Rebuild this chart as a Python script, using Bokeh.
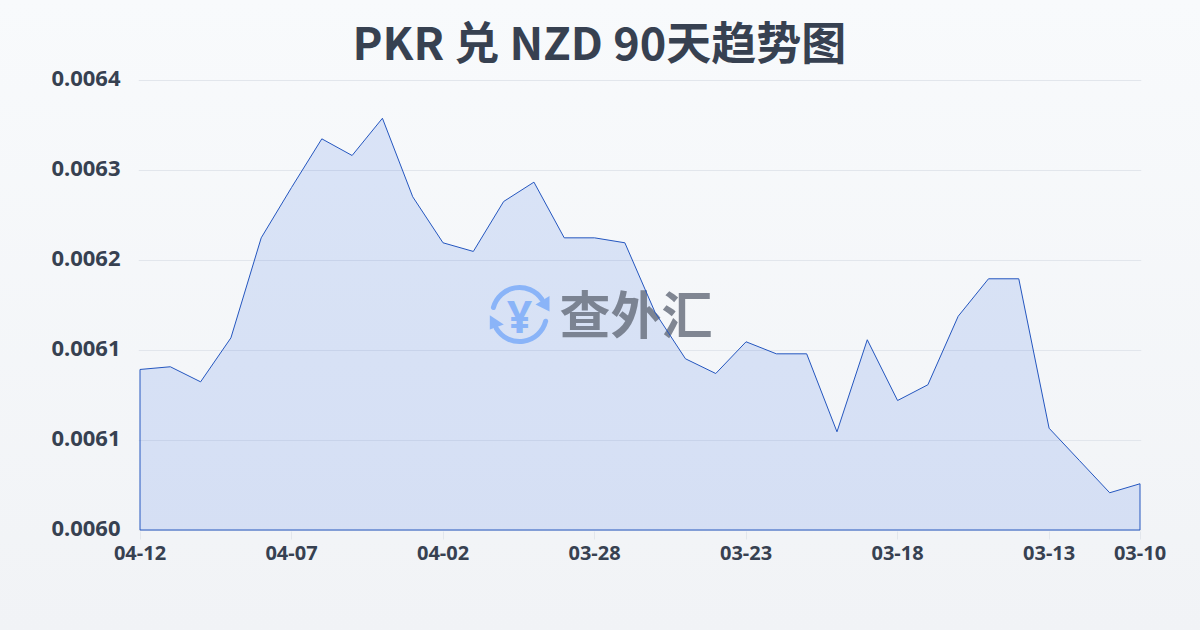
from bokeh.plotting import figure
from bokeh.embed import file_html
from bokeh.resources import INLINE
from bokeh.models import Range1d, FixedTicker, Title, LinearAxis
from bokeh.core.properties import value

title_text = "PKR 兑 NZD 90天趋势图"
brand_text = "查外汇"
dates = ["04-12","04-11","04-10","04-09","04-08","04-07","04-06","04-05","04-04","04-03",
         "04-02","04-01","03-31","03-30","03-29","03-28","03-27","03-26","03-25","03-24",
         "03-23","03-22","03-21","03-20","03-19","03-18","03-17","03-16","03-15","03-14",
         "03-13","03-12","03-11","03-10"]
rates = [0.0061427,0.0061451,0.0061317,0.0061708,0.0062597,0.0063044,0.0063477,0.0063329,
         0.0063660,0.0062962,0.0062553,0.0062476,0.0062920,0.0063092,0.0062597,0.0062597,
         0.0062553,0.0061933,0.0061522,0.0061391,0.0061673,0.0061566,0.0061566,0.0060873,
         0.0061691,0.0061151,0.0061291,0.0061900,0.0062233,0.0062233,0.0060905,0.0060618,
         0.0060331,0.0060411]
y_ticks = [0.0060,0.00608,0.00616,0.00624,0.00632,0.0064]
y_labels = ["0.0060","0.0061","0.0061","0.0062","0.0063","0.0064"]
x_tick_idx = [0,5,10,15,20,25,30,33]

INK = "#374151"
BLUE = "#2a66e0"
LINE = "#2456bf"
y_base = y_ticks[0]

# frame is a little larger than the data box so edge lines are not clipped
kx = (len(dates)-1)/1000
ky = (y_ticks[-1]-y_ticks[0])/450
p = figure(width=1200, height=630, output_backend="svg", toolbar_location=None,
           x_range=Range1d(-1.5*kx, len(dates)-1+1.5*kx),
           y_range=Range1d(y_ticks[0]-1.5*ky, y_ticks[-1]+3.5*ky),
           y_axis_location=None,
           min_border_left=138, min_border_right=59, min_border_top=76, min_border_bottom=99,
           styles={"background": "linear-gradient(180deg,#f8fafc 0%,#f1f3f6 100%)"})
p.background_fill_alpha = 0
p.border_fill_alpha = 0
p.outline_line_color = None

p.title = Title(text=title_text, align="left", offset=214, standoff=8,
                text_font="Noto Sans CJK SC", text_font_style="bold", text_font_size="45px",
                text_color=INK)

# pixel-based range for the watermark, mapped on the plot frame
p.extra_x_ranges["px"] = Range1d(139, 1142)
p.extra_y_ranges["px"] = Range1d(532, 77)
# y labels sit 2px above their gridlines
p.extra_y_ranges["labels"] = Range1d(y_ticks[0]-3.5*ky, y_ticks[-1]+1.5*ky)
yaxis = LinearAxis(y_range_name="labels", ticker=FixedTicker(ticks=y_ticks))
p.add_layout(yaxis, "left")

p.xgrid.visible = False
p.ygrid.ticker = FixedTicker(ticks=y_ticks)
p.ygrid.grid_line_color = "#e2e6ec"
p.ygrid.grid_line_width = 1

p.xaxis.ticker = FixedTicker(ticks=x_tick_idx)
p.xaxis.major_label_overrides = {i: dates[i] for i in x_tick_idx}
yaxis.major_label_overrides = dict(zip(y_ticks, y_labels))
for ax in (p.xaxis[0], yaxis):
    ax.axis_line_color = None
    ax.minor_tick_line_color = None
    ax.major_label_text_font = "Noto Sans"
    ax.major_label_text_font_style = "bold"
    ax.major_label_text_color = INK
p.xaxis.major_tick_line_color = "#e2e6ec"
p.xaxis.major_tick_in = 0
p.xaxis.major_tick_out = 8
p.xaxis.major_label_text_font_size = "20px"
p.xaxis.major_label_standoff = 6
yaxis.major_tick_line_color = None
yaxis.major_tick_in = 0
yaxis.major_tick_out = 0
yaxis.major_label_text_font_size = "22px"
yaxis.major_label_standoff = 18

xs = list(range(len(dates)))
px = [xs[0]] + xs + [xs[-1]]
py = [y_base] + rates + [y_base]
p.patch(px, py, fill_color=BLUE, fill_alpha=0.14, line_color=None)

# watermark
LOGO = "#8ab4f8"
kw = dict(x_range_name="px", y_range_name="px")
p.arc([520], [315], radius=27, radius_units="screen", start_angle=0.60, end_angle=2.88,
      direction="anticlock", line_color=LOGO, line_width=5, line_cap="round", **kw)
p.arc([520], [315], radius=27, radius_units="screen", start_angle=-2.6, end_angle=-0.25,
      direction="anticlock", line_color=LOGO, line_width=5, line_cap="round", **kw)
p.patch([550, 550, 536], [296.5, 312, 305], fill_color=LOGO, line_color=None, **kw)
p.patch([490.3, 490.3, 504.3], [315.7, 330, 325], fill_color=LOGO, line_color=None, **kw)
p.text([520], [316], text=["¥"], text_font=value("Noto Sans"), text_font_style="bold",
       text_font_size="44px", text_color=LOGO, text_align="center", text_baseline="middle", **kw)
p.text([636.5], [312], text=[brand_text], text_font=value("Noto Sans CJK SC"), text_font_style="bold",
       text_font_size="51px", text_color="#6b7280", text_alpha=0.85, text_align="center",
       text_baseline="middle", **kw)

p.line(px + [px[0]], py + [py[0]], line_color=LINE, line_width=1)

open("out.html", "w").write(file_html(p, INLINE))
